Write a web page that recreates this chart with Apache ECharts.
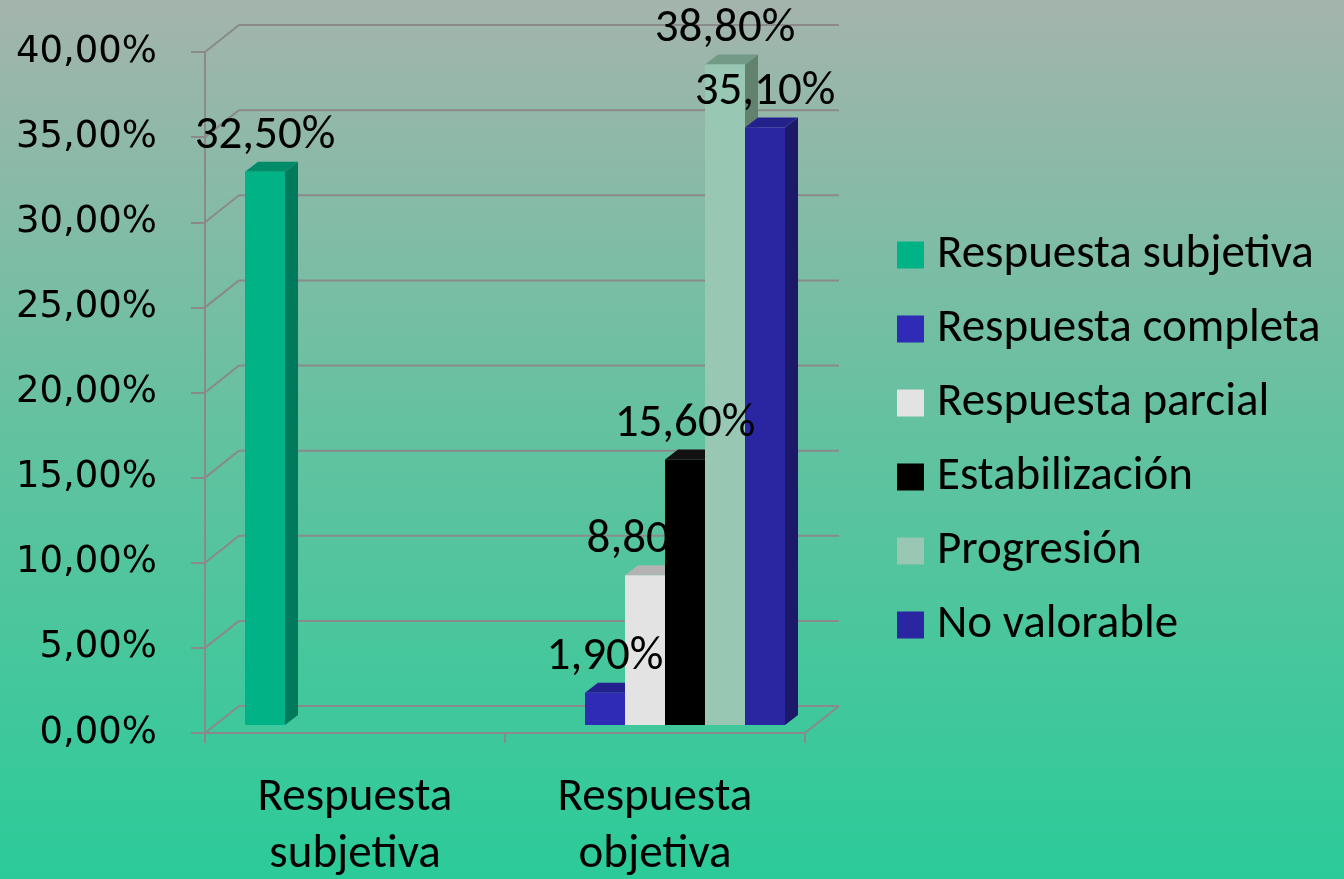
<!DOCTYPE html>
<html>
<head>
<meta charset="utf-8">
<script src="https://cdn.jsdelivr.net/npm/echarts@6/dist/echarts.min.js"></script>
<style>
html, body { margin: 0; padding: 0; }
#chart { width: 1344px; height: 879px; }
</style>
</head>
<body>
<div id="chart"></div>
<script>
// datos (porcentajes)
var categorias = ['Respuesta\nsubjetiva', 'Respuesta\nobjetiva'];
var nombres = ['Respuesta subjetiva', 'Respuesta completa', 'Respuesta parcial', 'Estabilización', 'Progresión', 'No valorable'];
var subjetiva = [32.5, null];
var completa = [null, 1.9];
var parcial = [null, 8.8];
var estabilizacion = [null, 15.6];
var progresion = [null, 38.8];
var noValorable = [null, 35.1];
var yTicks = [0, 5, 10, 15, 20, 25, 30, 35, 40];

var valores = [subjetiva, completa, parcial, estabilizacion, progresion, noValorable];

// colores: frente, lado, arriba
var colores = [
    ['#00B386', '#007A5A', '#008C68'],
    ['#2F2BB6', '#1E1C78', '#24218E'],
    ['#E3E3E3', '#A8A8A8', '#B3B3B3'],
    ['#000000', '#000000', '#111111'],
    ['#98C8B4', '#62816F', '#739A87'],
    ['#2A26A2', '#1C1A68', '#24218C']
];
// la etiqueta de "parcial" queda detrás de la barra negra como en el original
var etiquetaArriba = [true, true, false, true, true, true];

var wallDx = 34, wallDy = -27;
var barDx = 10, barDy = -8;
var depX = 13, depY = -10;
var fuente = 'Carlito, Calibri, sans-serif';

function fmt(v) {
    return v.toFixed(2).replace('.', ',') + '%';
}

function renderWall(params, api) {
    var cs = params.coordSys;
    var v = api.value(0);
    var p = api.coord([0, v]);
    var y = p[1];
    var x0 = cs.x, x1 = cs.x + cs.width;
    var lineStyle = { stroke: '#8A8A8A', lineWidth: 2 };
    var children = [
        { type: 'line', shape: { x1: x0, y1: y, x2: x0 + wallDx, y2: y + wallDy }, style: lineStyle },
        { type: 'line', shape: { x1: x0 + wallDx, y1: y + wallDy, x2: x1 + wallDx, y2: y + wallDy }, style: lineStyle }
    ];
    if (v === 0) {
        children.push({ type: 'line', shape: { x1: x1, y1: y, x2: x1 + wallDx, y2: y + wallDy }, style: lineStyle });
    }
    return { type: 'group', children: children };
}

function makeRender(idx) {
    return function (params, api) {
        var v = api.value(1);
        if (v == null || isNaN(v)) return null;
        var cat = api.value(0);
        var top = api.coord([cat, v]);
        var base = api.coord([cat, 0]);
        var band = api.size([1, 0])[0];
        var w = band * 0.8 / 6;
        var x = top[0] - band * 0.4 + idx * w + barDx;
        var yT = top[1] + barDy;
        var yB = base[1] + barDy;
        var c = colores[idx];
        var z = 10 + idx;
        return {
            type: 'group',
            children: [
                { type: 'polygon', z2: z, shape: { points: [[x + w, yT], [x + w + depX, yT + depY], [x + w + depX, yB + depY], [x + w, yB]] }, style: { fill: c[1] } },
                { type: 'polygon', z2: z, shape: { points: [[x, yT], [x + depX, yT + depY], [x + w + depX, yT + depY], [x + w, yT]] }, style: { fill: c[2] } },
                { type: 'rect', z2: z, shape: { x: x, y: yT, width: w, height: yB - yT }, style: { fill: c[0] } },
                {
                    type: 'text', z2: etiquetaArriba[idx] ? 100 : z + 0.5,
                    x: x + w / 2, y: yT + depY - 25,
                    style: { text: fmt(v), fill: '#000', font: '47px ' + fuente, align: 'center', verticalAlign: 'middle' }
                }
            ]
        };
    };
}

var chart = echarts.init(document.getElementById('chart'));

var series = [{
    type: 'custom',
    name: 'walls',
    z: 1,
    silent: true,
    renderItem: renderWall,
    data: yTicks.map(function (t) { return [t]; }),
    encode: { y: 0 }
}];

nombres.forEach(function (n, i) {
    series.push({
        type: 'custom',
        name: n,
        z: 2,
        itemStyle: { color: colores[i][0] },
        renderItem: makeRender(i),
        data: valores[i].map(function (v, j) { return [j, v == null ? '-' : v]; }),
        encode: { x: 0, y: 1 }
    });
});

var option = {
    backgroundColor: new echarts.graphic.LinearGradient(0, 0, 0, 1, [
        { offset: 0, color: '#A4B4AD' },
        { offset: 0.5, color: '#62C2A0' },
        { offset: 1, color: '#2BCB99' }
    ]),
    animation: false,
    grid: { left: 205, right: 539, top: 52, bottom: 146, containLabel: false, outerBoundsMode: 'none' },
    legend: {
        data: nombres,
        orient: 'vertical',
        left: 897,
        top: 230,
        padding: 0,
        itemWidth: 27,
        itemHeight: 27,
        itemGap: 24,
        icon: 'rect',
        textStyle: { fontFamily: fuente, fontSize: 47, lineHeight: 50, color: '#000', padding: [0, 0, 0, 8] }
    },
    xAxis: {
        type: 'category',
        data: categorias,
        axisLine: { lineStyle: { color: '#8A8A8A', width: 2 } },
        axisTick: { show: true, length: 10, lineStyle: { color: '#8A8A8A', width: 2 } },
        axisLabel: { fontFamily: fuente, fontSize: 47, lineHeight: 57, color: '#000', margin: 37 }
    },
    yAxis: {
        type: 'value',
        min: 0,
        max: 40,
        interval: 5,
        splitLine: { show: false },
        axisLine: { show: true, lineStyle: { color: '#8A8A8A', width: 2 } },
        axisTick: { show: true, length: 14, lineStyle: { color: '#8A8A8A', width: 2 } },
        axisLabel: {
            fontFamily: 'DejaVu Sans', fontSize: 37, color: '#000', margin: 48,
            padding: [6, 0, 0, 0],
            formatter: function (v) { return fmt(v); }
        }
    },
    series: series
};

chart.setOption(option);
</script>
</body>
</html>
